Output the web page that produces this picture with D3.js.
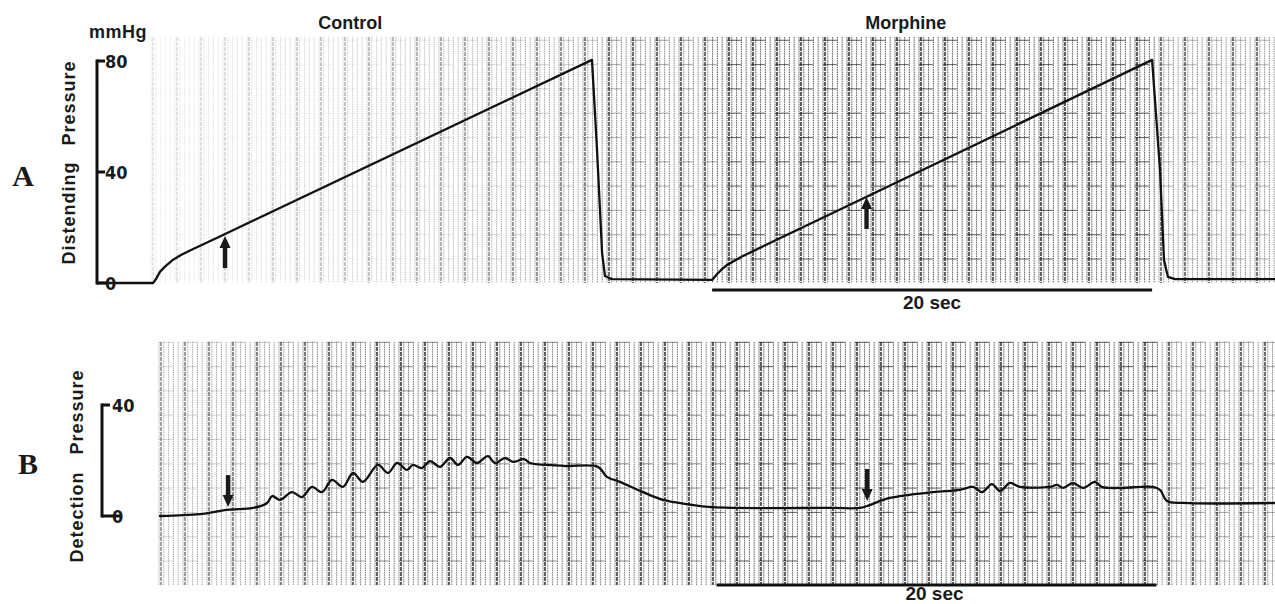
<!DOCTYPE html>
<meta charset="utf-8">
<style>
body { margin: 0; background: #fff; }
svg { display: block; }
.trace { fill: none; stroke: #111; stroke-width: 2.3; stroke-linejoin: round; stroke-linecap: round; }
.bar { stroke: #111; stroke-width: 3; fill: none; }
.lbl { font-family: "Liberation Sans", Arial, sans-serif; font-weight: bold; fill: #1a1a1a; }
.num { font-family: "Liberation Sans Narrow", "DejaVu Sans Condensed", "DejaVu Sans", sans-serif; font-stretch: condensed; font-weight: bold; fill: #1a1a1a; font-size: 18px; }
.panel { font-family: "Liberation Serif", "DejaVu Serif", serif; font-weight: bold; fill: #1a1a1a; font-size: 30px; }
</style>
<svg width="1275" height="604"></svg>
<script src="https://cdnjs.cloudflare.com/ajax/libs/d3/7.8.5/d3.min.js"></script>
<script>
// time (s) along the chart paper, pressure (mmHg)
var traceA = [
  [-2.4, 0], [0.14, 0], [0.27, 1.4], [0.45, 4.0], [0.68, 5.9], [1.05, 8.4], [1.45, 10.3],
  [1.82, 11.7], [3.32, 17.3], [20.09, 80.4], [20.32, 47.9], [20.55, 10.8], [20.68, 2.5],
  [21.0, 1.4], [25.55, 1.1], [25.75, 3.0], [25.95, 4.6], [26.23, 6.5], [26.86, 9.4],
  [32.55, 31.0], [45.55, 80.4], [45.91, 40.7], [46.09, 8.3], [46.27, 2.2], [46.59, 1.4],
  [51.2, 1.4]
];
var traceB = [
  [0.45, 0], [2.27, 0.7], [3.5, 2.2], [4.68, 2.9], [5.32, 4.7], [5.55, 7.2], [5.91, 5.8],
  [6.45, 8.6], [6.91, 6.8], [7.36, 10.5], [7.82, 8.6], [8.27, 13.0], [8.77, 10.5],
  [9.23, 15.5], [9.68, 12.3], [10.36, 18.4], [10.82, 15.5], [11.23, 19.1], [11.68, 16.6],
  [11.95, 18.4], [12.36, 17.3], [12.73, 19.8], [13.18, 17.7], [13.64, 20.9], [14.0, 18.4],
  [14.41, 21.3], [14.86, 19.1], [15.36, 21.6], [15.68, 19.1], [16.14, 20.9], [16.5, 19.5],
  [17.0, 20.5], [17.27, 19.1], [18.05, 18.4], [18.95, 18.0], [20.36, 17.7], [20.77, 14.1],
  [21.36, 12.3], [22.41, 8.6], [23.32, 5.8], [24.41, 4.3], [25.55, 3.2], [30.91, 2.9],
  [32.27, 2.9], [32.59, 3.6], [33.64, 6.5], [35.59, 8.6], [36.82, 9.4], [37.41, 10.5],
  [37.82, 8.6], [38.27, 11.5], [38.64, 9.0], [39.09, 11.9], [39.55, 10.5], [40.91, 10.5],
  [41.23, 11.2], [41.5, 10.1], [41.95, 11.9], [42.41, 10.1], [42.95, 12.3], [43.27, 10.5],
  [44.09, 10.1], [45.59, 10.5], [45.91, 9.4], [46.23, 5.4], [46.95, 4.7], [51.2, 4.7]
];
var arrowsA = [[3.41, 16.9], [32.57, 31.0]];   // upward arrows, tip position
var arrowsB = [[3.55, 3.2], [32.6, 5.4]];      // downward arrows, tip position
var timeBarA = [25.55, 45.55];
var timeBarB = [25.75, 45.75];
var ticksA = [0, 40, 80];
var ticksB = [0, 40];
var conditions = ["Control", "Morphine"];
var conditionTimes = [9.1, 34.35];

var svg = d3.select("svg");

var x = d3.scaleLinear().domain([0, 50]).range([150, 1250]);
var yA = d3.scaleLinear().domain([0, 80]).range([283, 61]);
var yB = d3.scaleLinear().domain([0, 40]).range([516, 405]);

// ---- chart paper ----
function paper(g, x0, x1, y0, y1, shade) {
  var minor = d3.range(x0, x1, 4.8);
  g.selectAll(".minor").data(minor).enter().append("line")
    .attr("x1", d => d).attr("x2", d => d)
    .attr("y1", y0).attr("y2", y1)
    .attr("stroke", "#3a3a3a").attr("stroke-width", 1)
    .attr("stroke-dasharray", "1.5,0.8")
    .attr("opacity", d => shade(d));
  var major = d3.range(x0 + 2, x1, 24);
  g.selectAll(".major").data(major).enter().append("line")
    .attr("x1", d => d).attr("x2", d => d)
    .attr("y1", y0).attr("y2", y1)
    .attr("stroke", "#1a1a1a").attr("stroke-width", 1.4)
    .attr("stroke-dasharray", "4,1")
    .attr("opacity", d => Math.min(1, shade(d) * 1.5));
  var hor = d3.range(y1 - 24, y0, -24.3);
  hor.forEach(function(hy) {
    g.append("g").selectAll("line").data(d3.range(x0, x1, 24)).enter().append("line")
      .attr("x1", d => d).attr("x2", d => d + 14)
      .attr("y1", hy).attr("y2", hy)
      .attr("stroke", "#222").attr("stroke-width", 1.1)
      .attr("opacity", d => shade(d) * shade(d));
  });
}

function shadeA(px) {
  if (px < 600) return 0.1 + 0.4 * Math.pow((px - 150) / 450, 1.3);
  if (px < 712) return 0.6;
  if (px < 1158) return 0.82;
  return 0.55;
}
function shadeB(px) {
  if (px < 360) return 0.38 + 0.24 * (px - 160) / 200;
  if (px < 712) return 0.68;
  if (px < 1158) return 0.82;
  return 0.6;
}
paper(svg.append("g"), 151, 1275, 37, 283, shadeA);
paper(svg.append("g"), 159, 1275, 342, 585, shadeB);

// ---- traces ----
var lineA = d3.line().x(d => x(d[0])).y(d => yA(d[1]));
var lineB = d3.line().x(d => x(d[0])).y(d => yB(d[1])).curve(d3.curveCatmullRom.alpha(0.5));
svg.append("path").attr("class", "trace").attr("d", lineA(traceA));
svg.append("path").attr("class", "trace").attr("d", lineB(traceB));

// ---- arrows ----
function arrow(tx, ty, dir) {
  // dir = -1 points up, +1 points down
  var head = 12, len = 32;
  svg.append("line")
    .attr("x1", tx).attr("x2", tx)
    .attr("y1", ty - dir * (head - 1)).attr("y2", ty - dir * len)
    .attr("stroke", "#1a1a1a").attr("stroke-width", 4.4);
  svg.append("path")
    .attr("d", "M" + tx + "," + ty + "L" + (tx - 5.5) + "," + (ty - dir * head) + "L" + (tx + 5.5) + "," + (ty - dir * head) + "Z")
    .attr("fill", "#1a1a1a");
}
arrowsA.forEach(d => arrow(x(d[0]), yA(d[1]), -1));
arrowsB.forEach(d => arrow(x(d[0]), yB(d[1]), 1));

// ---- 20 sec bars ----
svg.append("line").attr("class", "bar").attr("stroke-width", 2.5)
  .attr("x1", x(timeBarA[0])).attr("x2", x(timeBarA[1])).attr("y1", 290).attr("y2", 290);
svg.append("text").attr("class", "lbl").attr("font-size", 19).attr("text-anchor", "middle")
  .attr("x", x((timeBarA[0] + timeBarA[1]) / 2)).attr("y", 309).text("20 sec");
svg.append("line").attr("class", "bar").attr("stroke-width", 2.5)
  .attr("x1", x(timeBarB[0])).attr("x2", x(timeBarB[1])).attr("y1", 585).attr("y2", 585);
svg.append("text").attr("class", "lbl").attr("font-size", 19).attr("text-anchor", "middle")
  .attr("x", x((timeBarB[0] + timeBarB[1]) / 2) - 2).attr("y", 600).text("20 sec");

// ---- condition labels ----
svg.selectAll(".cond").data(conditions).enter().append("text")
  .attr("class", "lbl").attr("font-size", 18).attr("text-anchor", "middle")
  .attr("x", (d, i) => x(conditionTimes[i])).attr("y", 29).text(d => d);

// ---- calibration bars ----
function calib(y, ticks, bx, tickLen, zeroLen, labelX) {
  var dom = y.domain();
  svg.append("line").attr("class", "bar")
    .attr("x1", bx).attr("x2", bx).attr("y1", y(dom[0]) + 1.5).attr("y2", y(dom[1]) - 1.5);
  ticks.forEach(function(t) {
    svg.append("line").attr("class", "bar").attr("stroke-width", 2.5)
      .attr("x1", bx).attr("x2", bx + (t === 0 ? zeroLen : tickLen))
      .attr("y1", y(t)).attr("y2", y(t));
    svg.append("text").attr("class", "num")
      .attr("x", labelX).attr("y", y(t) + 7).text(t);
  });
}
calib(yA, ticksA, 97, 8, 10, 105);
calib(yB, ticksB, 102, 8, 20, 112);

svg.append("text").attr("class", "lbl").attr("font-size", 18).attr("x", 89).attr("y", 38)
  .attr("letter-spacing", 0.5).text("mmHg");

// rotated axis titles
function vtext(txt, cx, cy) {
  svg.append("text").attr("class", "lbl").attr("font-size", 18).attr("letter-spacing", 1)
    .attr("text-anchor", "middle")
    .attr("transform", "translate(" + cx + "," + cy + ") rotate(-90)").text(txt);
}
vtext("Pressure", 75, 103);
vtext("Distending", 75, 213);
vtext("Pressure", 83, 412);
vtext("Detection", 83, 517);

svg.append("text").attr("class", "panel").attr("text-anchor", "middle").attr("x", 23).attr("y", 186).text("A");
svg.append("text").attr("class", "panel").attr("text-anchor", "middle").attr("x", 28).attr("y", 474).text("B");
</script>
